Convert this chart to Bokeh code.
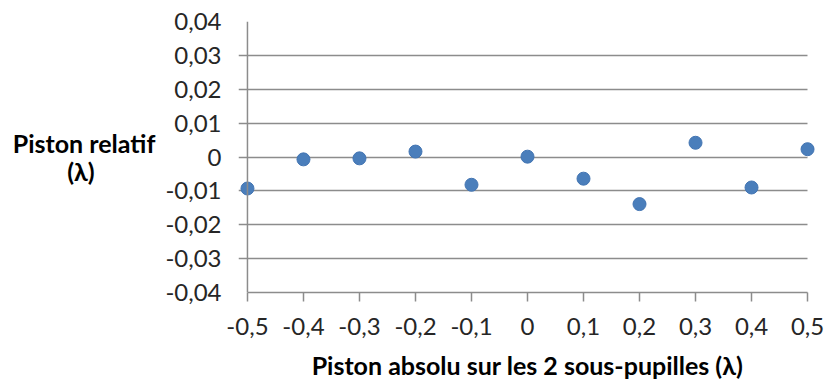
from bokeh.plotting import figure
from bokeh.models import FixedTicker, Range1d, Span
from bokeh.embed import file_html
from bokeh.resources import INLINE

# data
piston_absolu = [-0.5, -0.4, -0.3, -0.2, -0.1, 0.0, 0.1, 0.2, 0.3, 0.4, 0.5]
piston_relatif = [-0.0093, -0.0007, -0.0004, 0.0016, -0.0082, 0.0001, -0.0064, -0.0139, 0.0042, -0.0090, 0.0023]

x_ticks = [-0.5, -0.4, -0.3, -0.2, -0.1, 0.0, 0.1, 0.2, 0.3, 0.4, 0.5]
x_tick_labels = ["-0,5", "-0,4", "-0,3", "-0,2", "-0,1", "0", "0,1", "0,2", "0,3", "0,4", "0,5"]
y_ticks = [-0.04, -0.03, -0.02, -0.01, 0.0, 0.01, 0.02, 0.03, 0.04]
y_tick_labels = ["-0,04", "-0,03", "-0,02", "-0,01", "0", "0,01", "0,02", "0,03", "0,04"]

x_title = "Piston absolu sur les 2 sous-pupilles (λ)"
# second line padded with no-break spaces so both (right-aligned) lines appear centred
y_title = "Piston relatif\n(λ)" + "\u00a0" * 10

FONT = "Lato"
GRID = "#8c8c8c"
TEXT = "#262626"
TICK = 0.016  # tick-mark length in x units (about 9 px)

p = figure(width=827, height=382, output_backend="svg", toolbar_location=None,
           x_range=Range1d(x_ticks[0] - TICK, x_ticks[-1] + TICK), y_range=Range1d(-0.04, 0.04),
           min_border_left=238, min_border_right=11, min_border_top=21, min_border_bottom=89)
p.outline_line_color = None
p.background_fill_color = "white"
p.border_fill_color = "white"

# gridlines (+ y tick marks to the left of the axis line)
p.xgrid.grid_line_color = None
p.ygrid.ticker = FixedTicker(ticks=y_ticks)
p.ygrid.grid_line_color = GRID
p.ygrid.grid_line_width = 1.5
p.ygrid.cross_bounds = (x_ticks[0] - TICK, x_ticks[-1])

# y axis line at x = -0.5
p.add_layout(Span(location=x_ticks[0], dimension="height", line_color=GRID, line_width=1.5))

p.scatter(piston_absolu, piston_relatif, size=13, fill_color="#4a7ebb", line_color="#4375b3", line_width=1)

p.xaxis.ticker = FixedTicker(ticks=x_ticks)
p.xaxis.major_label_overrides = {t: l for t, l in zip(x_ticks, x_tick_labels)}
p.xaxis.bounds = (x_ticks[0], x_ticks[-1])
p.yaxis.ticker = FixedTicker(ticks=y_ticks)
p.yaxis.major_label_overrides = {t: l for t, l in zip(y_ticks, y_tick_labels)}

for ax in (p.xaxis, p.yaxis):
    ax.axis_line_color = GRID
    ax.axis_line_width = 1.5
    ax.major_tick_line_color = GRID
    ax.major_tick_line_width = 1.5
    ax.major_tick_in = 0
    ax.major_tick_out = 9
    ax.minor_tick_line_color = None
    ax.major_label_text_font = FONT
    ax.major_label_text_font_size = "24px"
    ax.major_label_text_color = TEXT
    ax.axis_label_text_font = FONT
    ax.axis_label_text_font_size = "25px"
    ax.axis_label_text_font_style = "bold"
    ax.axis_label_text_color = "black"

p.yaxis.axis_line_color = None
p.yaxis.major_tick_line_color = None
p.yaxis.major_tick_out = 0
p.yaxis.major_label_standoff = 17
p.yaxis.axis_label = y_title
p.yaxis.axis_label_orientation = "horizontal"
p.yaxis.axis_label_standoff = 7
p.yaxis.axis_label_text_line_height = 0.95

p.xaxis.major_label_standoff = 16
p.xaxis.axis_label = x_title
p.xaxis.axis_label_standoff = 12

open("out.html", "w").write(file_html(p, INLINE))
